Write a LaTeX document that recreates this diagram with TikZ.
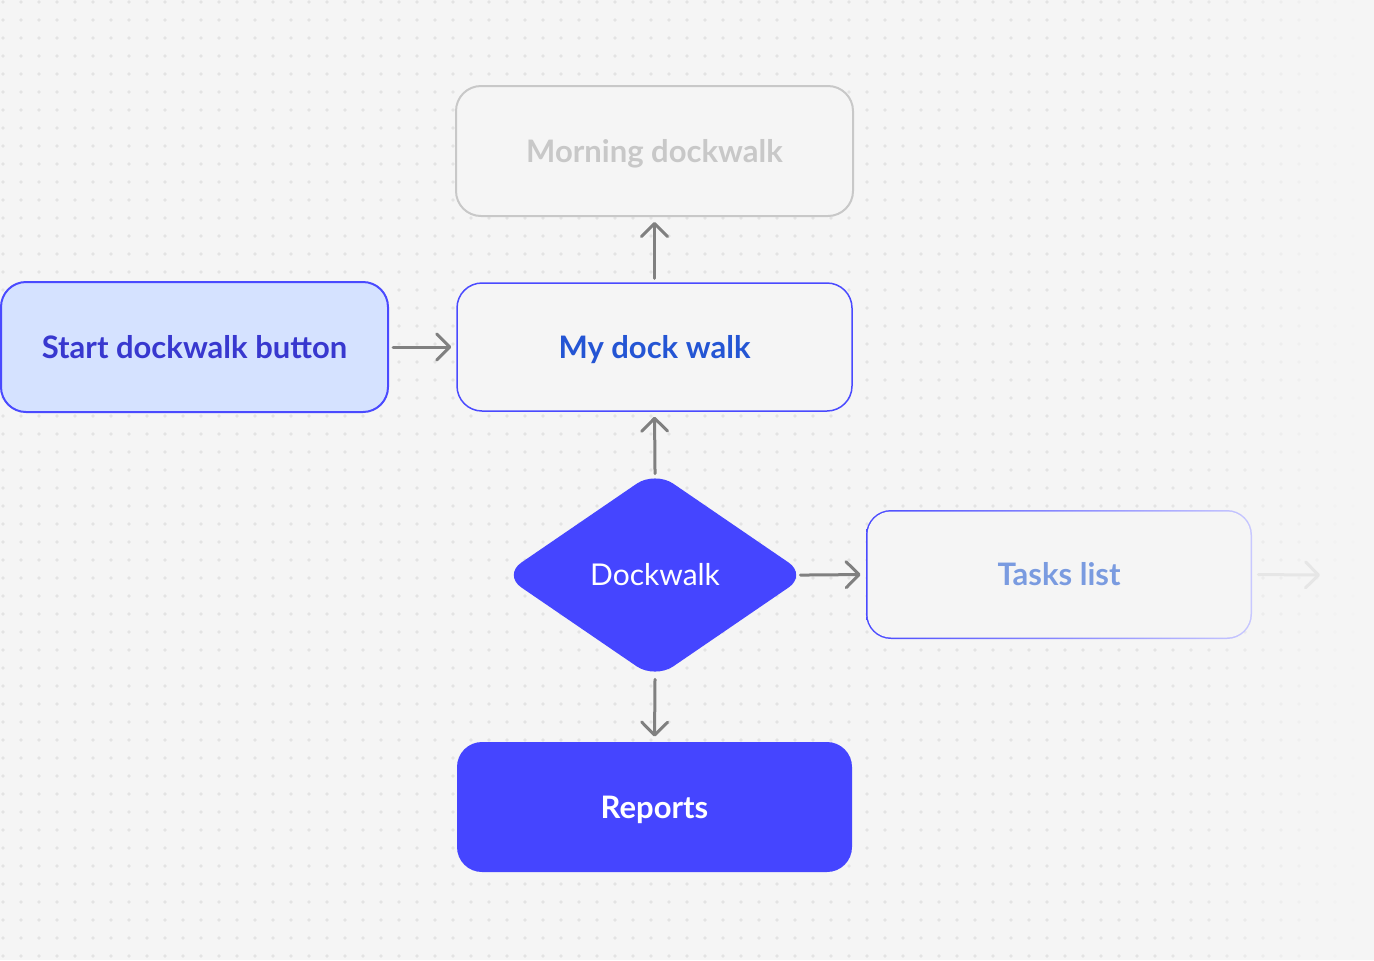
\documentclass[tikz,border=0pt]{standalone}
\usepackage{fontspec}
\setmainfont{Lato}
\usetikzlibrary{arrows.meta,shapes.geometric}
\definecolor{bgc}{HTML}{F5F5F5}
\definecolor{dotc}{HTML}{E3E3E3}
\definecolor{vio}{HTML}{4545FF}
\definecolor{violine}{HTML}{4A4AFF}
\definecolor{vioend}{HTML}{C8C8FF}
\definecolor{startfill}{HTML}{D5E2FF}
\definecolor{starttext}{HTML}{3838CF}
\definecolor{mytext}{HTML}{2455D4}
\definecolor{tasktext}{HTML}{7A9BE0}
\definecolor{mgray}{HTML}{C8C8C8}
\definecolor{arrc}{HTML}{808080}
\definecolor{farc}{HTML}{E6E6E6}
\tikzset{
  box/.style={rectangle, rounded corners=12.5pt, minimum width=#1, minimum height=65pt, inner sep=0pt, text height=11.2pt, text depth=0pt, font=\fontsize{15.5}{17}\selectfont\bfseries},
  flow/.style={draw=arrc, line width=1.5pt, line cap=round, -{Straight Barb[length=6.5pt,width=13pt,round]}, shorten <=2pt, shorten >=2.5pt},
}
\begin{document}
\begin{tikzpicture}[x=0.5pt,y=-0.5pt]
\fill[bgc] (0,0) rectangle (1374,960);
\useasboundingbox (0,0) rectangle (1374,960);
% dot grid
\foreach \i in {0,...,76}{
  \pgfmathsetmacro{\xx}{3+18*\i}
  \pgfmathsetmacro{\op}{\xx<1150 ? 1 : max(0,(1370-\xx)/220)}
  \foreach \j in {0,...,53}{
    \fill[dotc, opacity=\op] (\xx,2+18*\j) circle[radius=0.9pt];
  }
}
% nodes
\node[box=198.5pt, draw=mgray, line width=1pt, fill=bgc, text=mgray] (morning) at (654.5,151) {Morning dockwalk};
\node[box=197.5pt, minimum height=64pt, draw=violine, line width=0.75pt, fill=bgc, text=mytext] (my) at (654.5,347) {My dock walk};
\node[box=193.5pt, draw=violine, line width=1pt, fill=startfill, text=starttext] (start) at (194.5,347) {Start dockwalk button};
\node[box=197.5pt, fill=vio, text=white] (reports) at (654.5,807) {Reports};
\node[diamond, fill=vio, text=white, minimum width=152pt, minimum height=104pt, inner sep=0pt, rounded corners=11pt, text height=10.8pt, text depth=0pt, font=\fontsize{15}{17}\selectfont] (dock) at (655,575) {Dockwalk};
\node[box=193pt, minimum height=64.5pt, left color=violine, right color=vioend] (tasks) at (1059,574.5) {};
\node[box=191.5pt, minimum height=63pt, rounded corners=11.75pt, fill=bgc, text=tasktext] (taskstext) at (tasks.center) {Tasks list};
\coordinate (off) at (1320,575);
% connectors
\draw[flow] (start.east) -- (my.west);
\draw[flow] (my.north) -- (morning.south);
\draw[flow, shorten <=-1.5pt] (dock.north) -- (my.south);
\draw[flow, shorten <=-3.5pt] (dock.east) -- (tasks.west);
\draw[flow, shorten <=0pt] (dock.south) -- (reports.north);
\draw[flow, draw=farc, shorten <=3pt, shorten >=0pt] (tasks.east) -- (off);
\end{tikzpicture}
\end{document}
